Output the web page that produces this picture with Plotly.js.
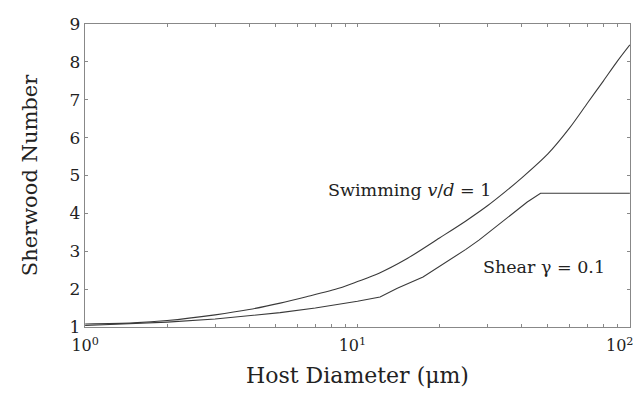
<!DOCTYPE html>
<html>
<head>
<meta charset="utf-8">
<script src="https://cdn.plot.ly/plotly-3.0.1.min.js"></script>
<style>html,body{margin:0;padding:0;background:#fff;}#chart{width:639px;height:401px;}</style>
</head>
<body>
<div id="chart"></div>
<script>
// Host diameter (µm) and Sherwood number readings
const swimDiameter = [1, 1.5, 2, 3, 4, 5.2, 6.5, 8.6, 10, 12, 15, 20, 25, 30, 35, 40, 50, 60, 70, 80, 90, 100];
const swimSherwood = [1.08, 1.11, 1.17, 1.32, 1.46, 1.63, 1.8, 2.03, 2.2, 2.42, 2.78, 3.35, 3.8, 4.2, 4.58, 4.93, 5.57, 6.25, 6.92, 7.5, 8.02, 8.45];

const shearDiameter = [1, 2, 3, 4, 5.2, 7, 8.6, 10, 12.1, 14, 17.4, 21, 25, 28, 33, 37, 42, 47, 100];
const shearSherwood = [1.04, 1.13, 1.21, 1.29, 1.38, 1.5, 1.6, 1.68, 1.79, 2.02, 2.32, 2.69, 3.05, 3.3, 3.7, 4.0, 4.3, 4.53, 4.53];

const NB = '\u00a0';
const xTickVals = [1,2,3,4,5,6,7,8,9,10,20,30,40,50,60,70,80,90,100];
const xTickText = ['10<sup>0</sup>',' ',' ',' ',' ',' ',' ',' ',' ','10<sup>1</sup>' + NB + NB,' ',' ',' ',' ',' ',' ',' ',' ','10<sup>2</sup>' + NB + NB + NB + NB];
const yTickVals = [1,2,3,4,5,6,7,8,9];

const serif = 'DejaVu Serif';
const lineColor = '#3a3a3a';

const traces = [
  {x: swimDiameter, y: swimSherwood, type: 'scatter', mode: 'lines', line: {color: lineColor, width: 1.1, shape: 'spline', smoothing: 0.8}, hoverinfo: 'skip'},
  {x: shearDiameter, y: shearSherwood, type: 'scatter', mode: 'lines', line: {color: lineColor, width: 1.1}, hoverinfo: 'skip'}
];

const layout = {
  width: 639, height: 401,
  margin: {l: 85, r: 9, t: 24, b: 74},
  paper_bgcolor: '#fff', plot_bgcolor: '#fff',
  showlegend: false,
  font: {family: serif, color: '#222'},
  xaxis: {
    type: 'log', range: [-0.0005, 2.0005],
    tickvals: xTickVals, ticktext: xTickText,
    tickangle: 0, ticklabeloverflow: 'allow',
    ticks: 'inside', ticklen: 3, tickcolor: '#888', tickwidth: 1,
    showline: true, linecolor: '#888', linewidth: 1.2, mirror: 'ticks',
    showgrid: false, zeroline: false,
    ticklabelstandoff: 4,
    tickfont: {family: serif, size: 16, color: '#222'},
    title: {text: 'Host Diameter (\u03bcm)', font: {family: serif, size: 22, color: '#222'}, standoff: 13}
  },
  yaxis: {
    range: [1, 9],
    tickvals: yTickVals,
    ticks: 'inside', ticklen: 3, tickcolor: '#888', tickwidth: 1,
    showline: true, linecolor: '#888', linewidth: 1.2, mirror: 'ticks',
    showgrid: false, zeroline: false,
    tickfont: {family: serif, size: 17, color: '#222'},
    title: {text: 'Sherwood Number', font: {family: serif, size: 21, color: '#222'}, standoff: 26}
  },
  annotations: [
    {x: 1.497, y: 4.62, xref: 'x', yref: 'y', xanchor: 'right', yanchor: 'middle', showarrow: false,
     text: 'Swimming <i>v</i>/<i>d</i> = 1', font: {family: serif, size: 17.5, color: '#222'}},
    {x: 1.453, y: 2.58, xref: 'x', yref: 'y', xanchor: 'left', yanchor: 'middle', showarrow: false,
     text: 'Shear \u03b3 = 0.1', font: {family: serif, size: 17.5, color: '#222'}}
  ]
};

Plotly.newPlot('chart', traces, layout, {displayModeBar: false, staticPlot: true});
</script>
</body>
</html>
